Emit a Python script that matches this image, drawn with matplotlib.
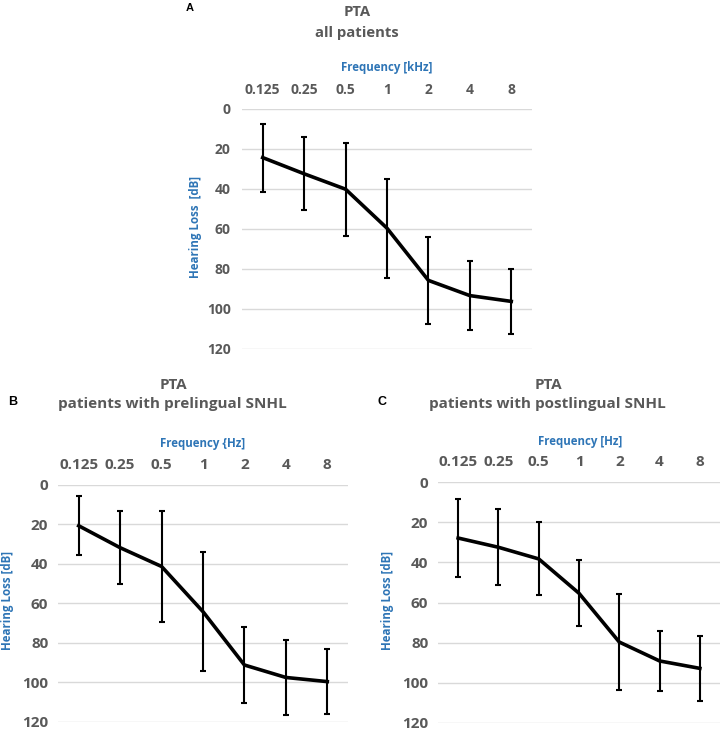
import numpy as np
import matplotlib
matplotlib.use("Agg")
import matplotlib.pyplot as plt

plt.rcParams['font.family'] = ['Open Sans', 'DejaVu Sans']

freqs = ["0.125", "0.25", "0.5", "1", "2", "4", "8"]
yticks = [0, 20, 40, 60, 80, 100, 120]

# mean hearing loss [dB] and standard deviation per frequency
all_mean = [24.3, 32.4, 40.1, 59.6, 85.7, 93.3, 96.2]
all_sd = [17.0, 18.2, 23.3, 24.7, 21.7, 17.4, 16.2]

pre_mean = [20.8, 31.9, 41.4, 64.3, 91.3, 97.6, 99.7]
pre_sd = [15.0, 18.6, 28.2, 30.2, 19.0, 19.2, 16.5]

post_mean = [27.9, 32.5, 38.3, 55.4, 79.7, 89.1, 92.8]
post_sd = [19.4, 18.9, 18.2, 16.4, 23.7, 15.1, 16.1]

W, H = 724, 731
GRAY = "#595959"
BLUE = "#2E75B6"

fig = plt.figure(figsize=(W / 100, H / 100), dpi=100)


def px(x, y):
    return x / W, 1 - y / H


def panel(x0, x1, y0, y1, mean, sd, tick_size, ypad):
    ax = fig.add_axes([x0 / W, 1 - y1 / H, (x1 - x0) / W, (y1 - y0) / H])
    x = np.arange(len(freqs))
    ax.errorbar(x, mean, yerr=sd, color="black", lw=2.6, elinewidth=1.5,
                capsize=2.4, capthick=1.5, zorder=3)
    ax.set_xlim(-0.5, len(freqs) - 0.5)
    ax.set_ylim(120, 0)
    ax.set_yticks(yticks)
    ax.set_xticks(x)
    ax.set_xticklabels(freqs)
    ax.xaxis.tick_top()
    ax.tick_params(axis="x", length=0, pad=9, labelsize=tick_size, labelcolor=GRAY)
    ax.tick_params(axis="y", length=0, pad=ypad, labelsize=tick_size, labelcolor=GRAY)
    for lab in ax.get_xticklabels() + ax.get_yticklabels():
        lab.set_fontweight("bold")
    ax.grid(axis="y", color="#D9D9D9", lw=1)
    ax.set_axisbelow(True)
    for s in ax.spines.values():
        s.set_visible(False)
    return ax


panel(242, 532, 109, 349, all_mean, all_sd, 10, 8)
panel(58, 348, 484.7, 721.7, pre_mean, pre_sd, 11, 7)
panel(438, 720, 482, 723, post_mean, post_sd, 11, 7)

# panel A texts
fig.text(*px(190, 8), "A", ha="center", va="center", fontsize=8, fontweight="bold",
         family=["Liberation Sans", "DejaVu Sans"])
fig.text(*px(357, 12), "PTA", ha="center", va="center", fontsize=10.7, fontweight="bold", color=GRAY)
fig.text(*px(357, 33), "all patients", ha="center", va="center", fontsize=10.7, fontweight="bold", color=GRAY)
fig.text(*px(387, 68), "Frequency [kHz]", ha="center", va="center", fontsize=8.3, fontweight="bold", color=BLUE)
fig.text(*px(195, 227), "Hearing Loss  [dB]", ha="center", va="center", rotation=90,
         fontsize=8.3, fontweight="bold", color=BLUE)

# panel B texts
fig.text(*px(13, 402), "B", ha="center", va="center", fontsize=9, fontweight="bold",
         family=["Liberation Sans", "DejaVu Sans"])
fig.text(*px(173, 385), "PTA", ha="center", va="center", fontsize=11, fontweight="bold", color=GRAY)
fig.text(*px(172, 404), "patients with prelingual SNHL", ha="center", va="center", fontsize=11,
         fontweight="bold", color=GRAY)
fig.text(*px(203, 443), "Frequency {Hz]", ha="center", va="center", fontsize=8.3, fontweight="bold", color=BLUE)
fig.text(*px(8, 600), "Hearing Loss [dB]", ha="center", va="center", rotation=90,
         fontsize=8.3, fontweight="bold", color=BLUE)

# panel C texts
fig.text(*px(382, 402), "C", ha="center", va="center", fontsize=9, fontweight="bold",
         family=["Liberation Sans", "DejaVu Sans"])
fig.text(*px(548, 385), "PTA", ha="center", va="center", fontsize=11, fontweight="bold", color=GRAY)
fig.text(*px(547, 404), "patients with postlingual SNHL", ha="center", va="center", fontsize=11,
         fontweight="bold", color=GRAY)
fig.text(*px(580, 442), "Frequency [Hz]", ha="center", va="center", fontsize=8.3, fontweight="bold", color=BLUE)
fig.text(*px(388, 600), "Hearing Loss [dB]", ha="center", va="center", rotation=90,
         fontsize=8.3, fontweight="bold", color=BLUE)

fig.savefig("out.png", dpi=100)
